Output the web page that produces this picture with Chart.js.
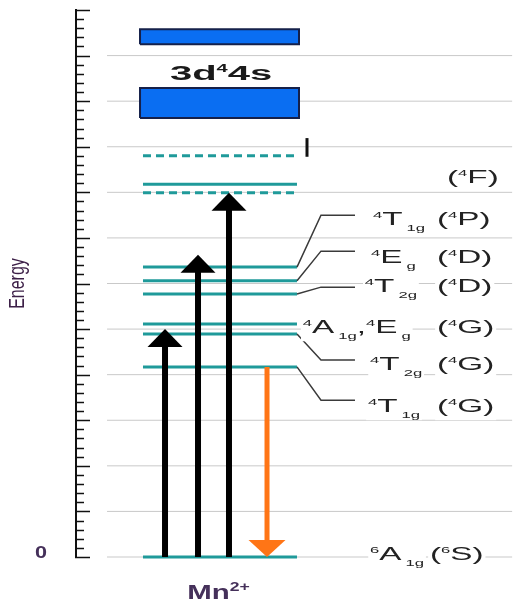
<!DOCTYPE html>
<html>
<head>
<meta charset="utf-8">
<style>
html,body{margin:0;padding:0;background:#fff;}
#wrap{width:513px;height:606px;}
</style>
</head>
<body>
<div id="wrap"><canvas id="c" width="513" height="606"></canvas></div>
<script src="https://cdn.jsdelivr.net/npm/chart.js@4"></script>
<script>
// ---------------- DATA ----------------
const levelNames    = ['6A1g(6S)','4T1g(4G)','4T2g(4G)','4A1g,4Eg(4G)','4T2g(4D)','4Eg(4D)','4T1g(4P)','4F(a)','4F(b)','upper'];
const levelEnergies = [0, 4.17, 4.89, 5.11, 5.77, 6.06, 6.36, 7.99, 8.18, 8.80];
const bandLows      = [9.63, 11.25];
const bandHighs     = [10.29, 11.58];
const bandLabel     = '3d^44s';
const absorptionTops = [5.00, 6.63, 7.99];
const emissionFrom  = 4.17;
const emissionTo    = 0;
const gridValues    = [0,1,2,3,4,5,6,7,8,9,10,11];
const tickLabels    = ['0'];
const axisTitle     = 'Energy';
const ionLabel      = 'Mn^{2+}';
const labelTerms    = ['^4T_{1g}', '^4E_g', '^4T_{2g}', '^4A_{1g},^4E_g', '^4T_{2g}', '^4T_{1g}', '', '^6A_{1g}'];
const labelStates   = ['(^4P)', '(^4D)', '(^4D)', '(^4G)', '(^4G)', '(^4G)', '(^4F)', '(^6S)'];
const labelLevel    = [6, 5, 4, 3, 2, 1, 8, 0];

// ---------------- LAYOUT / STYLE ----------------
const FONT = "'Liberation Sans', Arial, sans-serif";
const TEAL = '#1f9a9a';
const GRID_X = [7.1, 99.8];
const LEVEL_X = [15.33, 50.57];
const BAND_X = [14.65, 51.03];
const ARROW_X = [20.37, 27.92, 35.01];
const EMIT_X = 43.71;
const LEVEL_DASHED = [false,false,false,false,false,false,false,true,false,true];
const MARK = {x: 52.86, y0: 8.78, y1: 9.19};
// label layout: [termX, stateX, baselineE, leaderY (null = none)]
const LABEL_POS = [
  [67.96, 82.6, 7.28, 7.50],
  [67.5, 82.6, 6.45, 6.71],
  [66.1, 82.6, 5.81, 5.92],
  [51.9, 82.6, 4.91, null],
  [67.3, 82.6, 4.10, 4.32],
  [66.8, 82.6, 3.18, 3.44],
  [0, 84.9, 8.21, null],
  [67.3, 81.0, -0.07, null]
];
const LEADER_ELBOW = 56.06, LEADER_END = 63.84;
const LABEL_SIZE = 18, LABEL_SX = 1.85;

// ---------------- RICH TEXT ----------------
function parseRich(s){
  const out=[]; let i=0;
  while(i<s.length){
    const c=s[i];
    if(c==='^'||c==='_'){
      let t;
      if(s[i+1]==='{'){const j=s.indexOf('}',i+2); t=s.slice(i+2,j); i=j+1;}
      else {t=s[i+1]; i+=2;}
      out.push({t, k: c==='^'?'sup':'sub'});
    } else {
      let j=i; while(j<s.length && s[j]!=='^' && s[j]!=='_') j++;
      out.push({t:s.slice(i,j), k:'n'}); i=j;
    }
  }
  return out;
}
function layoutRich(ctx, s, size, bold, small){
  const w = bold ? 'bold ' : '';
  const runs = parseRich(s); let x=0;
  runs.forEach(r=>{
    const fs = r.k==='n' ? size : size*small;
    r.font = w + fs.toFixed(1) + 'px ' + FONT;
    ctx.font = r.font;
    if(r.k==='sub') x += size*0.12;
    r.x = x;
    r.dy = r.k==='sup' ? -size*0.40 : (r.k==='sub' ? size*0.32 : 0);
    x += ctx.measureText(r.t).width;
  });
  return {runs, width:x};
}
function drawRich(ctx, s, x, y, o){
  if(!s) return;
  const L = layoutRich(ctx, s, o.size, o.bold, o.small || 0.5);
  ctx.save();
  ctx.translate(x, y);
  ctx.scale(o.sx||1, 1);
  const start = o.align==='center' ? -L.width/2 : 0;
  if(o.bg){
    ctx.fillStyle = '#fff';
    ctx.fillRect(start-1, -o.size*1.05, L.width+2, o.size*1.5);
  }
  ctx.fillStyle = o.color || '#222';
  ctx.textBaseline = 'alphabetic';
  ctx.textAlign = 'left';
  L.runs.forEach(r=>{ ctx.font = r.font; ctx.fillText(r.t, start + r.x, r.dy); });
  ctx.restore();
}

// ---------------- DATASETS ----------------
const base = {pointRadius:0, pointHoverRadius:0, showLine:true, fill:false, clip:false, tension:0};
const datasets = [];
gridValues.forEach(v=>datasets.push(Object.assign({}, base, {
  data:[{x:GRID_X[0],y:v},{x:GRID_X[1],y:v}], borderColor:'#c9c9c9', borderWidth:1, order:10})));
bandLows.forEach((lo,i)=>{
  const hi = bandHighs[i];
  datasets.push(Object.assign({}, base, {
    data:[{x:BAND_X[0],y:lo},{x:BAND_X[1],y:lo},{x:BAND_X[1],y:hi},{x:BAND_X[0],y:hi},{x:BAND_X[0],y:lo}],
    borderColor:'#15204a', borderWidth:2, borderJoinStyle:'miter', backgroundColor:'#0a6ef2', fill:'shape', order:6}));
});
levelEnergies.forEach((e,i)=>datasets.push(Object.assign({}, base, {
  data:[{x:LEVEL_X[0],y:e},{x:LEVEL_X[1],y:e}], borderColor:TEAL, borderWidth:3,
  borderDash: LEVEL_DASHED[i] ? [8,5] : [], order:5})));
labelLevel.forEach((li,k)=>{
  const p = LABEL_POS[k];
  if(p[3]===null) return;
  datasets.push(Object.assign({}, base, {
    data:[{x:LEVEL_X[1],y:levelEnergies[li]},{x:LEADER_ELBOW,y:p[3]},{x:LEADER_END,y:p[3]}],
    borderColor:'#3a3a3a', borderWidth:1.5, order:4}));
});
datasets.push(Object.assign({}, base, {
  data:[{x:MARK.x,y:MARK.y0},{x:MARK.x,y:MARK.y1}], borderColor:'#111', borderWidth:3, order:4}));
absorptionTops.forEach((t,i)=>datasets.push(Object.assign({}, base, {
  data:[{x:ARROW_X[i],y:0},{x:ARROW_X[i],y:t-0.25}], borderColor:'#000', borderWidth:6, order:1})));
datasets.push(Object.assign({}, base, {
  data:[{x:EMIT_X,y:emissionFrom},{x:EMIT_X,y:emissionTo+0.25}], borderColor:'#ff7516', borderWidth:5, order:1}));

// ---------------- PLUGIN ----------------
const diagram = {
  id:'diagram',
  afterDatasetsDraw(chart){
    const ctx = chart.ctx, xs = chart.scales.x, ys = chart.scales.y;
    const X = v=>xs.getPixelForValue(v), Y = v=>ys.getPixelForValue(v);
    ctx.save();
    // arrow heads
    ctx.fillStyle = '#000';
    absorptionTops.forEach((t,i)=>{
      const px=X(ARROW_X[i]), py=Y(t);
      ctx.beginPath(); ctx.moveTo(px,py); ctx.lineTo(px+17.5,py+18); ctx.lineTo(px-17.5,py+18); ctx.closePath(); ctx.fill();
    });
    ctx.fillStyle = '#ff7516';
    { const px=X(EMIT_X), py=Y(emissionTo);
      ctx.beginPath(); ctx.moveTo(px,py); ctx.lineTo(px+18.5,py-17); ctx.lineTo(px-18.5,py-17); ctx.closePath(); ctx.fill(); }
    // axis ticks (inward, major + minor)
    const ax = ys.right;
    ctx.strokeStyle = '#111'; ctx.lineWidth = 1.5;
    for(let k=0;k<=60;k++){
      const v = k/5, py = Math.round(Y(v))+0.5;
      const len = (k%5===0) ? 14 : 8;
      ctx.beginPath(); ctx.moveTo(ax-1, py); ctx.lineTo(ax+len, py); ctx.stroke();
    }
    // tick label & axis title
    drawRich(ctx, tickLabels[0], ax-35, Y(0)+1, {size:16, bold:true, sx:1.35, align:'center', color:'#45305a'});
    ctx.save();
    ctx.translate(ys.left+18, (chart.chartArea.top+chart.chartArea.bottom)/2);
    ctx.scale(1.35,1);
    ctx.rotate(-Math.PI/2);
    ctx.font = '16px ' + FONT; ctx.fillStyle = '#3d2048';
    ctx.textAlign='center'; ctx.textBaseline='middle';
    ctx.fillText(axisTitle, 0, 0);
    ctx.restore();
    // band label
    drawRich(ctx, bandLabel, X(33.2), Y(10.47), {size:20, bold:true, sx:2.0, align:'center', color:'#1a1a1a'});
    // level labels
    labelLevel.forEach((li,k)=>{
      const p = LABEL_POS[k];
      if(labelTerms[k]) drawRich(ctx, labelTerms[k], X(p[0]), Y(p[2]), {size:LABEL_SIZE, sx:LABEL_SX, bg:true, color:'#222'});
      drawRich(ctx, labelStates[k], X(p[1]), Y(p[2]), {size:LABEL_SIZE, sx:LABEL_SX, bg:true, color:'#222'});
    });
    // ion label
    drawRich(ctx, ionLabel, X(32.6), Y(-0.92), {size:21, bold:true, sx:1.4, small:0.6, align:'center', color:'#45305a'});
    ctx.restore();
  }
};

new Chart(document.getElementById('c'), {
  type:'scatter',
  data:{datasets},
  options:{
    responsive:false, devicePixelRatio:1, animation:false,
    layout:{padding:{left:0,right:0,top:10,bottom:49}},
    plugins:{legend:{display:false}, tooltip:{enabled:false}},
    events:[],
    scales:{
      x:{type:'linear', min:0, max:100, display:false},
      y:{type:'linear', min:0, max:12, position:'left',
         ticks:{display:false}, grid:{display:false},
         border:{display:true, color:'#111', width:2},
         afterFit(s){ s.width = 76; }}
    }
  },
  plugins:[diagram]
});
</script>
</body>
</html>
